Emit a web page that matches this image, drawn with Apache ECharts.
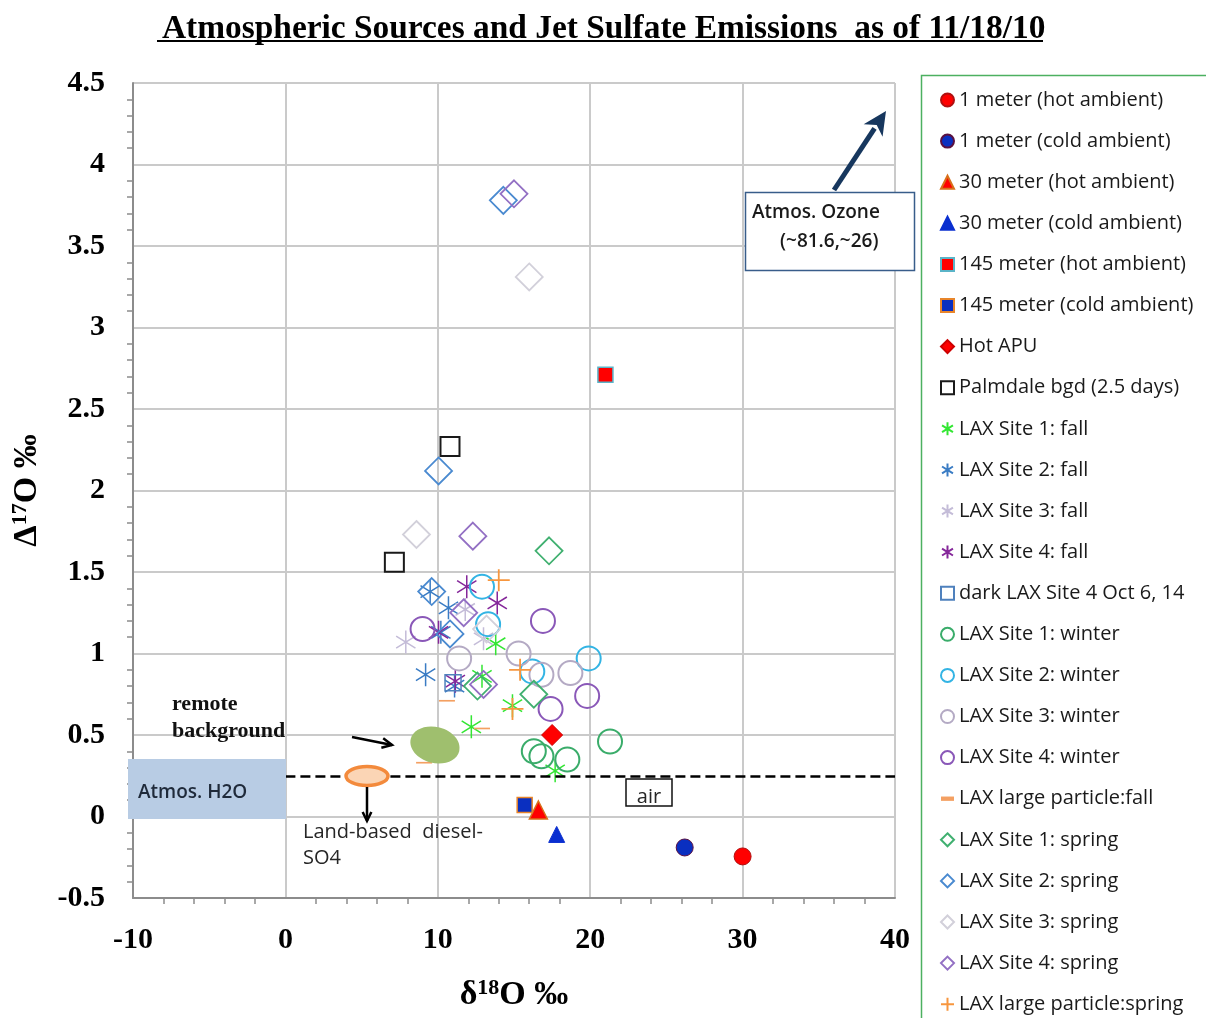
<!DOCTYPE html>
<html>
<head>
<meta charset="utf-8">
<script src="https://cdn.jsdelivr.net/npm/echarts@6/dist/echarts.min.js"></script>
<style>html,body{margin:0;padding:0;background:#fff;overflow:hidden;width:1206px;height:1018px;}#c{width:1206px;height:1018px;}</style>
</head>
<body>
<div id="c"></div>
<script>
// ---- data (x = δ18O ‰, y = Δ17O ‰) ----
const hot1m = [[30.0, -0.245]];
const cold1m = [[26.2, -0.19]];
const hot30m = [[16.6, 0.04]];
const cold30m = [[17.8, -0.11]];
const hot145m = [[21.0, 2.71]];
const cold145m = [[15.7, 0.07]];
const hotAPU = [[17.5, 0.50]];
const palmdale = [[10.8, 2.27], [7.15, 1.56]];
const lax1Fall = [[13.8, 1.06], [12.9, 0.86], [14.9, 0.68], [12.2, 0.55], [17.7, 0.28]];
const lax2Fall = [[9.5, 1.38], [10.7, 1.28], [10.2, 1.13], [9.2, 0.87], [11.1, 0.80]];
const lax3Fall = [[7.9, 1.07], [11.8, 1.27], [13.0, 1.09]];
const lax4Fall = [[11.9, 1.41], [13.9, 1.31], [10.05, 1.13], [11.15, 0.83]];
const darkLax4 = [[11.0, 0.82]];
const lax1Winter = [[16.3, 0.40], [16.8, 0.37], [18.5, 0.35], [21.3, 0.46]];
const lax2Winter = [[12.9, 1.41], [13.3, 1.18], [16.2, 0.89], [19.9, 0.97]];
const lax3Winter = [[11.4, 0.97], [15.3, 1.00], [16.8, 0.87], [18.7, 0.88]];
const lax4Winter = [[9.0, 1.15], [16.9, 1.20], [19.8, 0.74], [17.4, 0.66]];
const laxLargeFall = [[10.6, 0.71], [12.9, 0.54], [9.1, 0.33]];
const lax1Spring = [[17.3, 1.63], [16.3, 0.75], [12.6, 0.80]];
const lax2Spring = [[14.3, 3.78], [10.05, 2.12], [9.6, 1.38], [10.8, 1.12]];
const lax3Spring = [[16.0, 3.31], [8.6, 1.73], [13.2, 1.15]];
const lax4Spring = [[15.0, 3.82], [12.3, 1.72], [11.7, 1.25], [13.0, 0.81]];
const laxLargeSpring = [[14.0, 1.45], [15.4, 0.90], [14.9, 0.66]];

const xTicks = { min: -10, max: 40, interval: 10 };
const yTicks = { min: -0.5, max: 4.5, interval: 0.5 };
const dashedRef = 0.25;

// ---- symbols ----
const STAR = 'path://M5,0V10M0.8,2.4L9.2,7.6M0.8,7.6L9.2,2.4';
const PLUS = 'path://M5,0V10M0,5H10';
const DASH = 'path://M0,0H12V4H0Z';

function filled(name, data, symbol, size, fill, border, bw) {
  return { name, type: 'scatter', data, symbol, symbolSize: size, z: 5,
    itemStyle: { color: fill, borderColor: border, borderWidth: bw, opacity: 1 } };
}
function hollow(name, data, symbol, size, color, bw) {
  return { name, type: 'scatter', data, symbol, symbolSize: size, symbolKeepAspect: true, z: 4,
    itemStyle: { color: 'rgba(0,0,0,0)', borderColor: color, borderWidth: bw, opacity: 1 } };
}

const series = [
  filled('1 meter (hot ambient)', hot1m, 'circle', 17, '#ff0000', '#b01010', 1),
  filled('1 meter (cold ambient)', cold1m, 'circle', 17, '#0a2fc0', '#5a1040', 1),
  filled('30 meter (hot ambient)', hot30m, 'triangle', 18, '#ff0000', '#d8701a', 1.5),
  filled('30 meter (cold ambient)', cold30m, 'triangle', 16, '#0a2fd0', '#0a2fd0', 1),
  filled('145 meter (hot ambient)', hot145m, 'rect', 15, '#ff0000', '#5ab4c8', 1.5),
  filled('145 meter (cold ambient)', cold145m, 'rect', 15, '#0a2fc0', '#e8852a', 1.5),
  filled('Hot APU', hotAPU, 'diamond', 21, '#ff0000', '#cc0000', 1),
  hollow('Palmdale bgd (2.5 days)', palmdale, 'rect', 19, '#1a1a1a', 2),
  hollow('LAX Site 1: fall', lax1Fall, STAR, 23, '#33e633', 1.5),
  hollow('LAX Site 2: fall', lax2Fall, STAR, 23, '#3a7cc4', 1.5),
  hollow('LAX Site 3: fall', lax3Fall, STAR, 23, '#c4bcd8', 1.5),
  hollow('LAX Site 4: fall', lax4Fall, STAR, 23, '#85279a', 1.5),
  hollow('dark LAX Site 4 Oct 6, 14', darkLax4, 'rect', 16, '#4f81bd', 1.5),
  hollow('LAX Site 1: winter', lax1Winter, 'circle', 24, '#3aac6a', 2),
  hollow('LAX Site 2: winter', lax2Winter, 'circle', 24, '#33b4e4', 2),
  hollow('LAX Site 3: winter', lax3Winter, 'circle', 24, '#b4aac4', 2),
  hollow('LAX Site 4: winter', lax4Winter, 'circle', 24, '#8a58b8', 2),
  { name: 'LAX large particle:fall', type: 'scatter', data: laxLargeFall, symbol: DASH,
    symbolSize: [16, 5], symbolKeepAspect: true, z: 4,
    itemStyle: { color: '#f4a062', borderWidth: 0, opacity: 1 } },
  hollow('LAX Site 1: spring', lax1Spring, 'diamond', 27, '#40b070', 1.8),
  hollow('LAX Site 2: spring', lax2Spring, 'diamond', 27, '#4a8ad0', 1.8),
  hollow('LAX Site 3: spring', lax3Spring, 'diamond', 27, '#d2d0da', 1.8),
  hollow('LAX Site 4: spring', lax4Spring, 'diamond', 27, '#9370c4', 1.8),
  hollow('LAX large particle:spring', laxLargeSpring, PLUS, 22, '#f7963e', 1.8)
];

series[0].markLine = {
  silent: true, symbol: 'none', label: { show: false },
  lineStyle: { color: '#000', type: [10, 5], width: 2.5 },
  data: [[{ coord: [0, dashedRef] }, { coord: [xTicks.max, dashedRef] }]]
};

const serif = 'Liberation Serif';
const sans = 'Open Sans';

function arrow(x1, y1, x2, y2, color, w, head, filledHead) {
  const a = Math.atan2(y2 - y1, x2 - x1);
  const h1 = [x2 - head * Math.cos(a - 0.45), y2 - head * Math.sin(a - 0.45)];
  const h2 = [x2 - head * Math.cos(a + 0.45), y2 - head * Math.sin(a + 0.45)];
  const ex = filledHead ? x2 - head * 0.8 * Math.cos(a) : x2;
  const ey = filledHead ? y2 - head * 0.8 * Math.sin(a) : y2;
  return [
    { type: 'line', z: 20, shape: { x1, y1, x2: ex, y2: ey }, style: { stroke: color, lineWidth: w } },
    filledHead
      ? { type: 'polygon', z: 20, shape: { points: [h1, [x2, y2], h2, [x2 - head * 0.65 * Math.cos(a), y2 - head * 0.65 * Math.sin(a)]] }, style: { fill: color } }
      : { type: 'polyline', z: 20, shape: { points: [h1, [x2, y2], h2] }, style: { stroke: color, lineWidth: w, fill: null } }
  ];
}

const txt = (x, y, text, opts) => ({ type: 'text', z: 21, x, y,
  style: Object.assign({ text, fill: '#262626', font: '20px "Open Sans"', textVerticalAlign: 'middle' }, opts) });

const graphic = [
  // title underline
  { type: 'line', shape: { x1: 157, y1: 41, x2: 1043, y2: 41 }, style: { stroke: '#000', lineWidth: 2 } },
  // legend box
  { type: 'rect', z: 0, shape: { x: 921.5, y: 75.5, width: 300, height: 960 }, style: { fill: null, stroke: '#4cb060', lineWidth: 1.5 } },
  // Atmos H2O box
  { type: 'rect', z: 15, shape: { x: 128, y: 759, width: 158, height: 60 }, style: { fill: '#b8cce4' } },
  txt(138, 793, 'Atmos. H2O', { font: '600 19px "Open Sans"', fill: '#1f2a3a' }),
  // remote background
  txt(172, 704, 'remote', { font: 'bold 22px "Liberation Serif"', fill: '#111' }),
  txt(172, 731, 'background', { font: 'bold 22px "Liberation Serif"', fill: '#111' }),
  ...arrow(352, 737, 392, 745, '#000', 2.5, 11, false),
  { type: 'ellipse', z: 15, shape: { cx: 435, cy: 745, rx: 25, ry: 18 }, rotation: -0.25, originX: 435, originY: 745,
    style: { fill: '#9fbf6e' } },
  // diesel ellipse
  { type: 'ellipse', z: 16, shape: { cx: 367, cy: 776, rx: 21, ry: 9.5 }, style: { fill: '#fbd5b5', stroke: '#f38a3c', lineWidth: 3.5 } },
  ...arrow(367, 787, 367, 821, '#000', 2.5, 10, false),
  txt(303, 832, 'Land-based  diesel-', {}),
  txt(303, 858, 'SO4', {}),
  // air box
  { type: 'rect', z: 17, shape: { x: 626, y: 779, width: 46, height: 27 }, style: { fill: '#fff', stroke: '#111', lineWidth: 1.5 } },
  txt(649, 797, 'air', { textAlign: 'center' }),
  // ozone box
  { type: 'rect', z: 17, shape: { x: 745.5, y: 192.5, width: 169, height: 78 }, style: { fill: '#fff', stroke: '#385d8a', lineWidth: 1.5 } },
  txt(752, 213, 'Atmos. Ozone', { font: '600 19px "Open Sans"', fill: '#1a1a1a' }),
  txt(780, 242, '(~81.6,~26)', { font: '600 19px "Open Sans"', fill: '#1a1a1a' }),
  ...arrow(834, 190, 886, 111, '#17375e', 5, 26, true)
];

const chart = echarts.init(document.getElementById('c'));
chart.setOption({
  animation: false,
  backgroundColor: '#fff',
  title: {
    text: 'Atmospheric Sources and Jet Sulfate Emissions  as of 11/18/10',
    left: 157, top: 8,
    textStyle: { fontFamily: serif, fontWeight: 'bold', fontSize: 33.4, color: '#000' }
  },
  grid: { left: 133, right: 311, top: 83, bottom: 118, containLabel: false },
  xAxis: {
    type: 'value', min: xTicks.min, max: xTicks.max, interval: xTicks.interval,
    name: '{a|δ}{s|18}{a|O ‰}', nameLocation: 'middle', nameGap: 79,
    nameTextStyle: { rich: {
      a: { fontFamily: serif, fontWeight: 'bold', fontSize: 34, color: '#000', lineHeight: 36 },
      s: { fontFamily: serif, fontWeight: 'bold', fontSize: 22, color: '#000', lineHeight: 36, verticalAlign: 'top', padding: [0, 0, 14, 0] } } },
    axisLine: { show: true, onZero: false, lineStyle: { color: '#8c8c8c', width: 2 } },
    axisTick: { show: false },
    minorTick: { show: true, splitNumber: 5, length: 6, lineStyle: { color: '#8c8c8c', width: 1.5 } },
    splitLine: { show: true, lineStyle: { color: '#cacaca', width: 2 } },
    axisLabel: { fontFamily: serif, fontWeight: 'bold', fontSize: 30, color: '#000', margin: 27 }
  },
  yAxis: {
    type: 'value', min: yTicks.min, max: yTicks.max, interval: yTicks.interval,
    name: '{a|Δ}{s|17}{a|O ‰}', nameLocation: 'middle', nameGap: 88, nameRotate: 90,
    nameTextStyle: { rich: {
      a: { fontFamily: serif, fontWeight: 'bold', fontSize: 34, color: '#000', lineHeight: 36 },
      s: { fontFamily: serif, fontWeight: 'bold', fontSize: 22, color: '#000', lineHeight: 36, verticalAlign: 'top', padding: [0, 0, 14, 0] } } },
    axisLine: { show: true, onZero: false, lineStyle: { color: '#8c8c8c', width: 2 } },
    axisTick: { show: false },
    minorTick: { show: true, splitNumber: 5, length: 6, lineStyle: { color: '#8c8c8c', width: 1.5 } },
    splitLine: { show: true, lineStyle: { color: '#cacaca', width: 2 } },
    axisLabel: { fontFamily: serif, fontWeight: 'bold', fontSize: 30, color: '#000', margin: 28 }
  },
  legend: {
    orient: 'vertical', left: 940, top: 90, itemWidth: 13, itemHeight: 13, itemGap: 21.1,
    padding: 0, selectedMode: false,
    textStyle: { fontFamily: sans, fontSize: 20, color: '#1a1a1a', lineHeight: 20 },
    data: series.map(s => s.name)
  },
  graphic,
  series
});
</script>
</body>
</html>
